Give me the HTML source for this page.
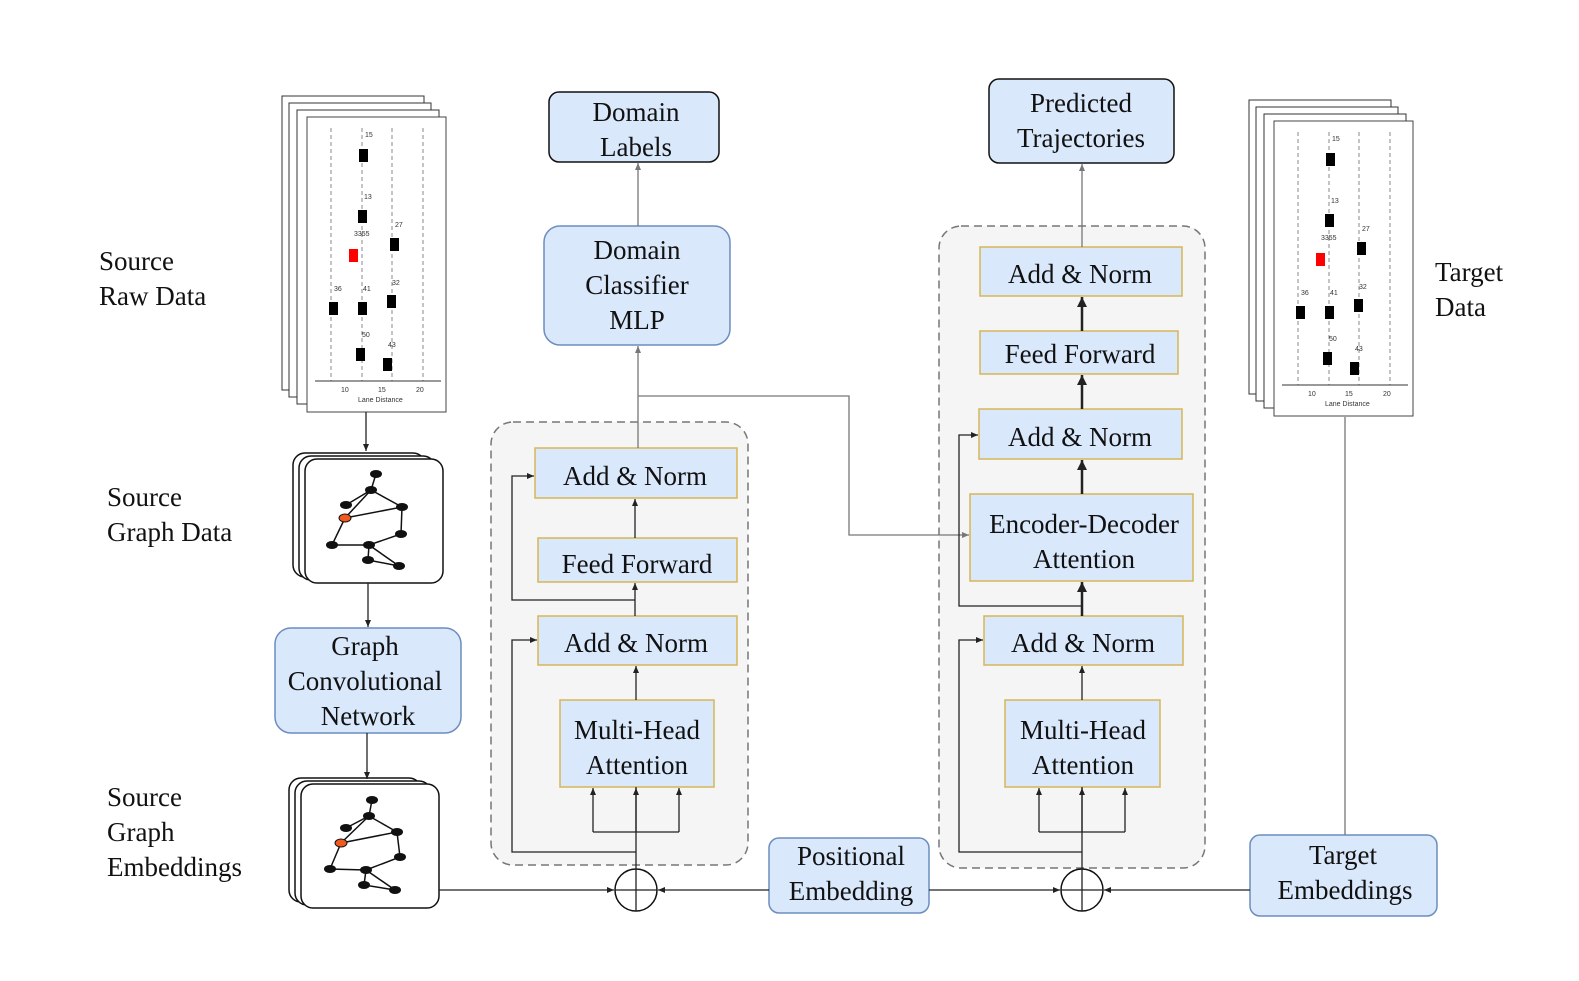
<!DOCTYPE html>
<html><head><meta charset="utf-8"><style>
html,body{margin:0;padding:0;background:#fff;overflow:hidden;width:1579px;height:981px}
svg{display:block}
text{font-family:"Liberation Serif","Times New Roman",Times,"Noto Serif CJK SC","DejaVu Serif",serif;font-size:27px;fill:#111}
text.s{font-family:"Liberation Sans",Arial,sans-serif;font-size:7px;fill:#333}
.b{fill:#dae8fc;stroke:#6c8ebf;stroke-width:1.5}
.k{fill:#dae8fc;stroke:#111;stroke-width:1.5}
.y{fill:#dae8fc;stroke:#d6b656;stroke-width:1.5}
.d{fill:#f5f5f5;stroke:#777;stroke-width:1.5;stroke-dasharray:8 5}
.l{stroke:#222;stroke-width:1.3;fill:none}
.t{stroke:#222;stroke-width:2.5;fill:none}
.g{stroke:#777;stroke-width:1.3;fill:none}
</style></head><body>
<svg width="1579" height="981" viewBox="0 0 1579 981" xmlns="http://www.w3.org/2000/svg">
<defs>
<marker id="a" markerWidth="8" markerHeight="8" refX="7" refY="4" orient="auto" markerUnits="userSpaceOnUse"><path d="M0,1 L7,4 L0,7 Z" fill="#222"/></marker>
<marker id="ag" markerWidth="8" markerHeight="8" refX="7" refY="4" orient="auto" markerUnits="userSpaceOnUse"><path d="M0,1 L7,4 L0,7 Z" fill="#777"/></marker>
<marker id="at" markerWidth="12" markerHeight="12" refX="10" refY="6" orient="auto" markerUnits="userSpaceOnUse"><path d="M0,1 L10,6 L0,11 Z" fill="#222"/></marker>
<g id="plot">
<rect x="282" y="96" width="142" height="294" fill="#fff" stroke="#333"/>
<rect x="289" y="103" width="142" height="294" fill="#fff" stroke="#333"/>
<rect x="297" y="110" width="142" height="294" fill="#fff" stroke="#333"/>
<rect x="307" y="117" width="139" height="295" fill="#fff" stroke="#444"/>
<g stroke="#888" stroke-dasharray="4 3"><line x1="331" y1="128" x2="331" y2="381"/><line x1="362" y1="128" x2="362" y2="381"/><line x1="392" y1="128" x2="392" y2="381"/><line x1="423" y1="128" x2="423" y2="381"/></g>
<line x1="315" y1="381" x2="441" y2="381" stroke="#333"/>
<text class="s" x="341" y="392">10</text><text class="s" x="378" y="392">15</text><text class="s" x="416" y="392">20</text>
<text class="s" x="358" y="402">Lane Distance</text>
<g fill="#000"><rect x="359" y="149" width="9" height="13"/><rect x="358" y="210" width="9" height="13"/><rect x="390" y="238" width="9" height="13"/><rect x="329" y="302" width="9" height="13"/><rect x="358" y="302" width="9" height="13"/><rect x="387" y="295" width="9" height="13"/><rect x="356" y="348" width="9" height="13"/><rect x="383" y="358" width="9" height="13"/></g>
<rect x="349" y="249" width="9" height="13" fill="#f00"/>
<text class="s" x="365" y="137">15</text><text class="s" x="364" y="199">13</text><text class="s" x="354" y="236">3355</text><text class="s" x="395" y="227">27</text><text class="s" x="334" y="291">36</text><text class="s" x="363" y="291">41</text><text class="s" x="392" y="285">32</text><text class="s" x="362" y="337">50</text><text class="s" x="388" y="347">43</text>
</g>
</defs>
<use href="#plot"/>
<use href="#plot" transform="translate(967,4)"/>

<rect class="d" x="491" y="422" width="257" height="443" rx="22"/>
<rect class="d" x="939" y="226" width="266" height="642" rx="22"/>

<g fill="#fff" stroke="#111" stroke-width="1.5">
<rect x="293" y="453" width="132" height="124" rx="12"/><rect x="299" y="456" width="136" height="124" rx="12"/><rect x="305" y="459" width="138" height="124" rx="12"/>
<rect x="289" y="778" width="132" height="124" rx="12"/><rect x="295" y="781" width="136" height="124" rx="12"/><rect x="301" y="784" width="138" height="124" rx="12"/>
</g>
<g stroke="#111" stroke-width="1.5" fill="none">
<path d="M376,474L371,490L346,505M371,490L345,518L402,507L401,534L369,545L332,545L345,518M371,490L402,507M369,545L368,560L399,566L369,545"/>
<path d="M372,800L369,816L346,828M369,816L341,843L397,832L400,857L366,870L330,869L341,843M369,816L397,832M366,870L364,885L395,890L366,870"/>
</g>
<g fill="#111"><ellipse cx="376" cy="474" rx="6" ry="4"/><ellipse cx="371" cy="490" rx="6" ry="4"/><ellipse cx="346" cy="505" rx="6" ry="4"/><ellipse cx="402" cy="507" rx="6" ry="4"/><ellipse cx="401" cy="534" rx="6" ry="4"/><ellipse cx="369" cy="545" rx="6" ry="4"/><ellipse cx="332" cy="545" rx="6" ry="4"/><ellipse cx="368" cy="560" rx="6" ry="4"/><ellipse cx="399" cy="566" rx="6" ry="4"/>
<ellipse cx="372" cy="800" rx="6" ry="4"/><ellipse cx="369" cy="816" rx="6" ry="4"/><ellipse cx="346" cy="828" rx="6" ry="4"/><ellipse cx="397" cy="832" rx="6" ry="4"/><ellipse cx="400" cy="857" rx="6" ry="4"/><ellipse cx="366" cy="870" rx="6" ry="4"/><ellipse cx="330" cy="869" rx="6" ry="4"/><ellipse cx="364" cy="885" rx="6" ry="4"/><ellipse cx="395" cy="890" rx="6" ry="4"/></g>
<ellipse cx="345" cy="518" rx="6" ry="4" fill="#f05a1e" stroke="#111"/>
<ellipse cx="341" cy="843" rx="6" ry="4" fill="#f05a1e" stroke="#111"/>

<rect class="k" x="549" y="92" width="170" height="70" rx="10"/>
<rect class="k" x="989" y="79" width="185" height="84" rx="10"/>
<rect class="b" x="544" y="226" width="186" height="119" rx="16"/>
<rect class="b" x="275" y="628" width="186" height="105" rx="16"/>
<rect class="b" x="769" y="838" width="160" height="75" rx="10"/>
<rect class="b" x="1250" y="835" width="187" height="81" rx="10"/>
<rect class="y" x="535" y="448" width="202" height="50"/>
<rect class="y" x="538" y="538" width="199" height="44"/>
<rect class="y" x="538" y="616" width="199" height="49"/>
<rect class="y" x="560" y="700" width="154" height="87"/>
<rect class="y" x="980" y="247" width="202" height="49"/>
<rect class="y" x="980" y="331" width="198" height="43"/>
<rect class="y" x="979" y="409" width="203" height="50"/>
<rect class="y" x="970" y="494" width="223" height="87"/>
<rect class="y" x="984" y="616" width="199" height="49"/>
<rect class="y" x="1005" y="700" width="155" height="87"/>

<g text-anchor="middle">
<text x="636" y="121">Domain</text><text x="636" y="156">Labels</text>
<text x="1081" y="112">Predicted</text><text x="1081" y="147">Trajectories</text>
<text x="637" y="259">Domain</text><text x="637" y="294">Classifier</text><text x="637" y="329">MLP</text>
<text x="365" y="655">Graph</text><text x="365" y="690">Convolutional</text><text x="368" y="725">Network</text>
<text x="851" y="865">Positional</text><text x="851" y="900">Embedding</text>
<text x="1343" y="864">Target</text><text x="1345" y="899">Embeddings</text>
<text x="635" y="485">Add &amp; Norm</text>
<text x="637" y="573">Feed Forward</text>
<text x="636" y="652">Add &amp; Norm</text>
<text x="637" y="739">Multi-Head</text><text x="637" y="774">Attention</text>
<text x="1080" y="283">Add &amp; Norm</text>
<text x="1080" y="363">Feed Forward</text>
<text x="1080" y="446">Add &amp; Norm</text>
<text x="1084" y="533">Encoder-Decoder</text><text x="1084" y="568">Attention</text>
<text x="1083" y="652">Add &amp; Norm</text>
<text x="1083" y="739">Multi-Head</text><text x="1083" y="774">Attention</text>
</g>
<text x="99" y="270">Source</text><text x="99" y="305">Raw Data</text>
<text x="107" y="506">Source</text><text x="107" y="541">Graph Data</text>
<text x="107" y="806">Source</text><text x="107" y="841">Graph</text><text x="107" y="876">Embeddings</text>
<text x="1435" y="281">Target</text><text x="1435" y="316">Data</text>

<g fill="#fff" stroke="#111" stroke-width="1.5">
<circle cx="636" cy="890" r="21"/><circle cx="1082" cy="890" r="21"/></g>
<path class="l" d="M615,890H657M636,869V911M1061,890H1103M1082,869V911"/>

<path class="l" d="M366,412V451" marker-end="url(#a)"/>
<path class="l" d="M368,583V627" marker-end="url(#a)"/>
<path class="l" d="M367,733V779" marker-end="url(#a)"/>
<path class="l" d="M439,890H614" marker-end="url(#a)"/>
<path class="l" d="M769,890H658" marker-end="url(#a)"/>
<path class="l" d="M929,890H1060" marker-end="url(#a)"/>
<path class="l" d="M1250,890H1104" marker-end="url(#a)"/>
<path class="g" d="M1345,417V835"/>
<path class="l" d="M636,869V787M593,832H679"/>
<path class="l" d="M593,832V788" marker-end="url(#a)"/><path class="l" d="M679,832V788" marker-end="url(#a)"/><path class="l" d="M636,832V788" marker-end="url(#a)"/>
<path class="l" d="M636,852H512V640H537" marker-end="url(#a)"/>
<path class="l" d="M636,700V666" marker-end="url(#a)"/>
<path class="l" d="M635,616V583" marker-end="url(#a)"/>
<path class="l" d="M635,600H512V476H534" marker-end="url(#a)"/>
<path class="l" d="M635,538V499" marker-end="url(#a)"/>
<path class="g" d="M638,448V346" marker-end="url(#ag)"/>
<path class="g" d="M638,396H849V535H969" marker-end="url(#ag)"/>
<path class="g" d="M638,226V163" marker-end="url(#ag)"/>
<path class="g" d="M1082,247V164" marker-end="url(#ag)"/>
<path class="l" d="M1082,869V787M1039,832H1125"/>
<path class="l" d="M1039,832V788" marker-end="url(#a)"/><path class="l" d="M1125,832V788" marker-end="url(#a)"/><path class="l" d="M1082,832V788" marker-end="url(#a)"/>
<path class="l" d="M1082,852H959V640H983" marker-end="url(#a)"/>
<path class="l" d="M1082,700V666" marker-end="url(#a)"/>
<path class="t" d="M1082,616V582" marker-end="url(#at)"/>
<path class="l" d="M1082,606H959V435H978" marker-end="url(#a)"/>
<path class="t" d="M1082,494V460" marker-end="url(#at)"/>
<path class="t" d="M1082,409V375" marker-end="url(#at)"/>
<path class="t" d="M1082,331V297" marker-end="url(#at)"/>
</svg>
</body></html>
